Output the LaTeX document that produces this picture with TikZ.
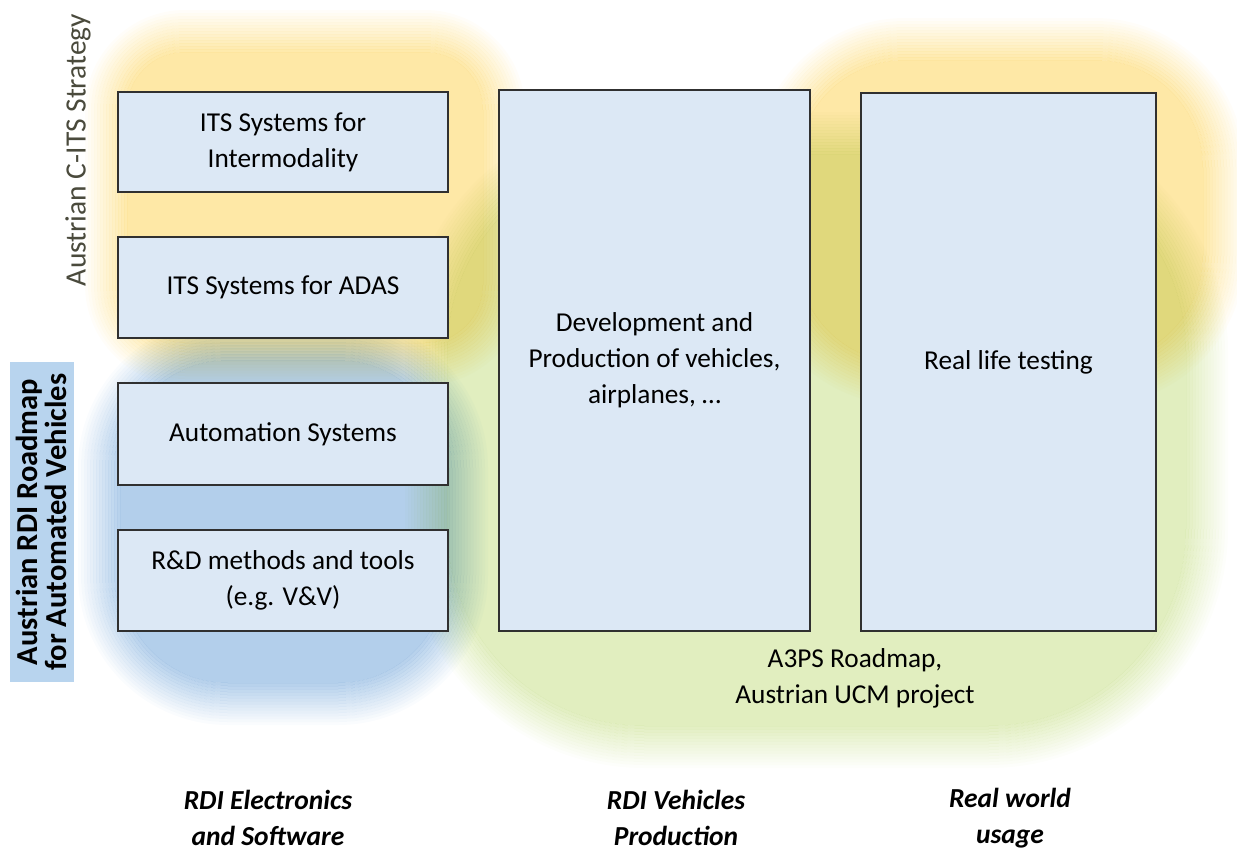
\documentclass[tikz,border=0pt]{standalone}
\usepackage{fontspec}
\setmainfont{Carlito}
\usetikzlibrary{positioning}

\definecolor{boxFill}{HTML}{DCE8F5}
\definecolor{boxLine}{HTML}{303030}
\definecolor{itsYellow}{HTML}{FEE8A6}
\definecolor{rdiBlue}{HTML}{B3CFEB}
\definecolor{ucmGreen}{HTML}{E1EEBF}
\definecolor{labelBlue}{HTML}{B8D4EE}
\definecolor{stratGray}{HTML}{4A4A3C}

\begin{document}
\begin{tikzpicture}
[x=1pt,y=-1pt,
  boxDecorate/.style={shape=rectangle,draw=boxLine,fill=boxFill,line width=1.4pt,
    align=center,inner sep=0pt,font=\fontsize{27.3}{36}\selectfont},
  textDecorate/.style={align=center,inner sep=0pt,font=\fontsize{27.3}{36}\selectfont},
  axisDecorate/.style={align=center,inner sep=0pt,font=\fontsize{27.5}{36}\selectfont\bfseries\itshape}]
\useasboundingbox (0,0) rectangle (1237,854);
%% soft coloured areas behind the boxes (rings fading in, then a solid core)
\begin{scope}[blend mode=multiply]
\foreach \blobcolor/\xa/\ya/\xb/\yb/\rad in {itsYellow/85/10/525/385/100,
    itsYellow/755/18/1245/405/150, rdiBlue/78/318/488/725/150,
    ucmGreen/405/112/1228/768/240} {
  \foreach \k in {0,...,13} {
    \pgfmathsetmacro\op{(\k+1)/15}
    \fill[\blobcolor,opacity=\op,even odd rule]
      {[rounded corners=\rad-3*\k] (\xa+3*\k,\ya+3*\k) rectangle (\xb-3*\k,\yb-3*\k)}
      {[rounded corners=\rad-3*\k-3] (\xa+3*\k+3,\ya+3*\k+3) rectangle (\xb-3*\k-3,\yb-3*\k-3)};
  }
  \fill[\blobcolor,rounded corners=\rad-42] (\xa+42,\ya+42) rectangle (\xb-42,\yb-42);
}
\end{scope}
%% boxes
\node (intermod) at (283,142) [boxDecorate,minimum width=330,minimum height=100]
  {ITS Systems for\\Intermodality};
\node (adas) at (283,287.5) [boxDecorate,minimum width=330,minimum height=101]
  {ITS Systems for ADAS};
\node (automation) at (283,434) [boxDecorate,minimum width=330,minimum height=102]
  {Automation Systems};
\node (methods) at (283,580.5) [boxDecorate,minimum width=330,minimum height=101]
  {R\&D methods and tools\\(e.g. V\&V)};
\node (production) at (654.5,360.5) [boxDecorate,minimum width=311,minimum height=541]
  {Development and\\Production of vehicles,\\airplanes, \dots};
\node (testing) at (1008.5,362) [boxDecorate,minimum width=295,minimum height=538]
  {Real life testing};
%% side labels
\node (citsLabel) at (78,150) [textDecorate,rotate=90,text=stratGray,
  font=\fontsize{29.5}{36}\selectfont] {Austrian C-ITS Strategy};
\node (rdiLabel) at (41.5,522) [textDecorate,rotate=90,fill=labelBlue,
  minimum width=320,minimum height=64,font=\fontsize{30.5}{29}\selectfont\bfseries]
  {Austrian RDI Roadmap\\for Automated Vehicles};
\node (a3psLabel) at (855,678) [textDecorate] {A3PS Roadmap,\\Austrian UCM project};
%% column captions
\node (electronics) at (268,818) [axisDecorate] {RDI Electronics\\and Software};
\node (vehicles) at (676,818) [axisDecorate] {RDI Vehicles\\Production};
\node (usage) at (1010,818) [axisDecorate] {Real world\\usage};
\end{tikzpicture}
\end{document}
